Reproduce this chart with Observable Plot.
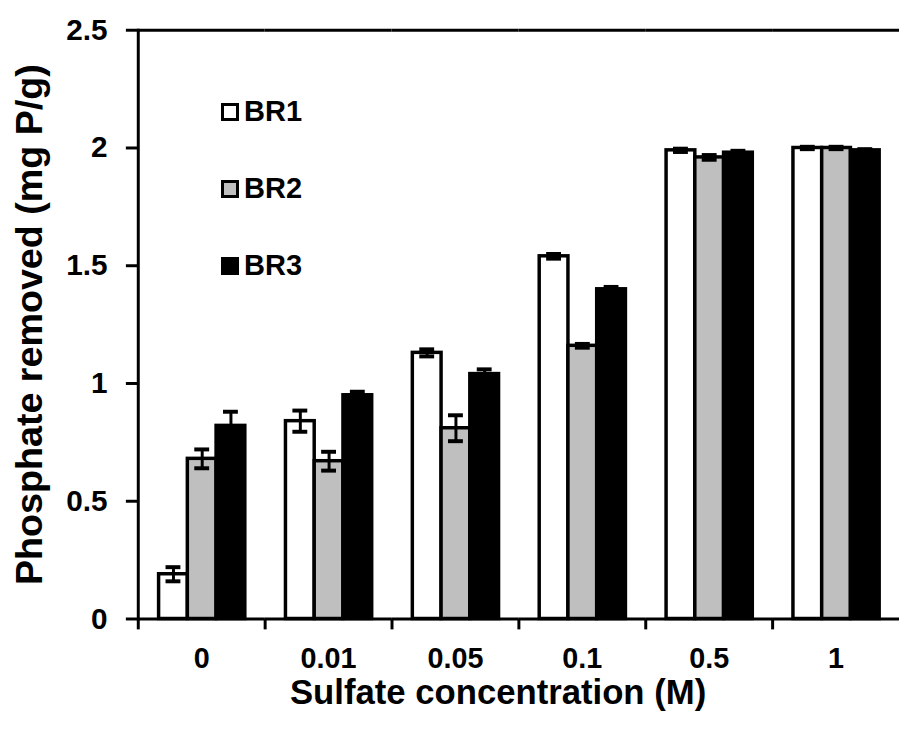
<!DOCTYPE html>
<html>
<head>
<meta charset="utf-8">
<script src="https://cdn.jsdelivr.net/npm/d3@7"></script>
<script src="https://cdn.jsdelivr.net/npm/@observablehq/plot@0.6"></script>
<style>
  html, body { margin: 0; padding: 0; background: #fff; }
  #chart { position: relative; width: 899px; height: 740px; overflow: hidden;
           font-family: "Liberation Sans", Arial, sans-serif; font-weight: bold; }
  .legend { position: absolute; left: 221px; top: 96px; display: flex; flex-direction: column; gap: 46px; }
  .legend .item { display: flex; align-items: center; height: 31px; font-size: 29px; color: #000; }
  .legend .swatch { width: 12px; height: 12px; border: 3.5px solid #000; margin-right: 5px; }
</style>
</head>
<body>
<div id="chart"></div>
<script>
// Sulfate concentrations (M) on the category axis
const concentrations = ["0", "0.01", "0.05", "0.1", "0.5", "1"];
const seriesNames = ["BR1", "BR2", "BR3"];
const seriesFill = ["#ffffff", "#bfbfbf", "#000000"];

// Phosphate removed (mg P/g) and standard error, per series
const br1 = [0.19, 0.84, 1.13, 1.54, 1.99, 2.00];
const br1Err = [0.03, 0.045, 0.015, 0.01, 0.007, 0.005];
const br2 = [0.68, 0.67, 0.81, 1.16, 1.96, 2.00];
const br2Err = [0.04, 0.04, 0.055, 0.008, 0.01, 0.005];
const br3 = [0.82, 0.95, 1.04, 1.40, 1.98, 1.99];
const br3Err = [0.06, 0.015, 0.02, 0.01, 0.008, 0.005];

const yTicks = [0, 0.5, 1, 1.5, 2, 2.5];
const yTitle = "Phosphate removed (mg P/g)";
const xTitle = "Sulfate concentration (M)";

const values = [br1, br2, br3];
const errors = [br1Err, br2Err, br3Err];
const rows = concentrations.flatMap((conc, i) =>
  seriesNames.map((series, j) => ({conc, series, value: values[j][i], err: errors[j][i]}))
);

// frame geometry
const width = 907, height = 740;
const marginLeft = 139, marginRight = 0;
const step = (width - marginLeft - marginRight) / concentrations.length;

const chart = Plot.plot({
  width, height,
  marginLeft, marginRight, marginTop: 30, marginBottom: 116,
  style: {fontFamily: "'Liberation Sans', Arial, sans-serif", fontWeight: "bold", color: "#000", background: "#fff", overflow: "visible"},
  fx: {domain: concentrations, paddingInner: 0, paddingOuter: 0, axis: null},
  x: {domain: seriesNames, paddingInner: 0, paddingOuter: 0.7, axis: null},
  y: {domain: [0, 2.5], axis: null},
  color: {domain: seriesNames, range: seriesFill},
  marks: [
    Plot.barY(rows, {fx: "conc", x: "series", y: "value", fill: "series", stroke: "#000", strokeWidth: 3.5}),
    // x axis line and top border
    Plot.ruleY([0, 2.5], {stroke: "#000", strokeWidth: 3}),
    // y axis line
    Plot.frame({anchor: "left", facetAnchor: "left", stroke: "#000", strokeWidth: 3}),
    // error bars
    Plot.ruleX(rows, {fx: "conc", x: "series", y1: d => d.value - d.err, y2: d => d.value + d.err, stroke: "#000", strokeWidth: 3}),
    Plot.tickY(rows, {fx: "conc", x: "series", y: d => d.value + d.err, insetLeft: 7, insetRight: 7, stroke: "#000", strokeWidth: 4}),
    Plot.tickY(rows, {fx: "conc", x: "series", y: d => d.value - d.err, insetLeft: 7, insetRight: 7, stroke: "#000", strokeWidth: 4}),
    // y axis ticks and labels
    Plot.axisY({ticks: yTicks, tickFormat: d => String(d), tickSize: 12, tickPadding: 19, fontSize: 30, strokeWidth: 3, label: null}),
    Plot.axisY({ticks: [], label: yTitle, labelAnchor: "center", labelArrow: "none", labelOffset: 124, fontSize: 38}),
    // category labels, and tick marks at the category boundaries
    Plot.axisFx({anchor: "bottom", tickSize: 0, tickPadding: 29, fontSize: 29, label: null}),
    Plot.axisFx({anchor: "bottom", tickSize: 11, tickFormat: () => "", dx: -step / 2, strokeWidth: 3, label: null}),
    // x axis title
    Plot.text([xTitle], {text: d => d, facet: "super", frameAnchor: "bottom", lineAnchor: "bottom", dx: -21, dy: 86, fontSize: 35})
  ]
});

const root = d3.select("#chart");
root.node().appendChild(chart);

const legend = root.append("div").attr("class", "legend");
const items = legend.selectAll("div.item").data(seriesNames).join("div").attr("class", "item");
items.append("div").attr("class", "swatch").style("background", (d, i) => seriesFill[i]);
items.append("span").text(d => d);
</script>
</body>
</html>
